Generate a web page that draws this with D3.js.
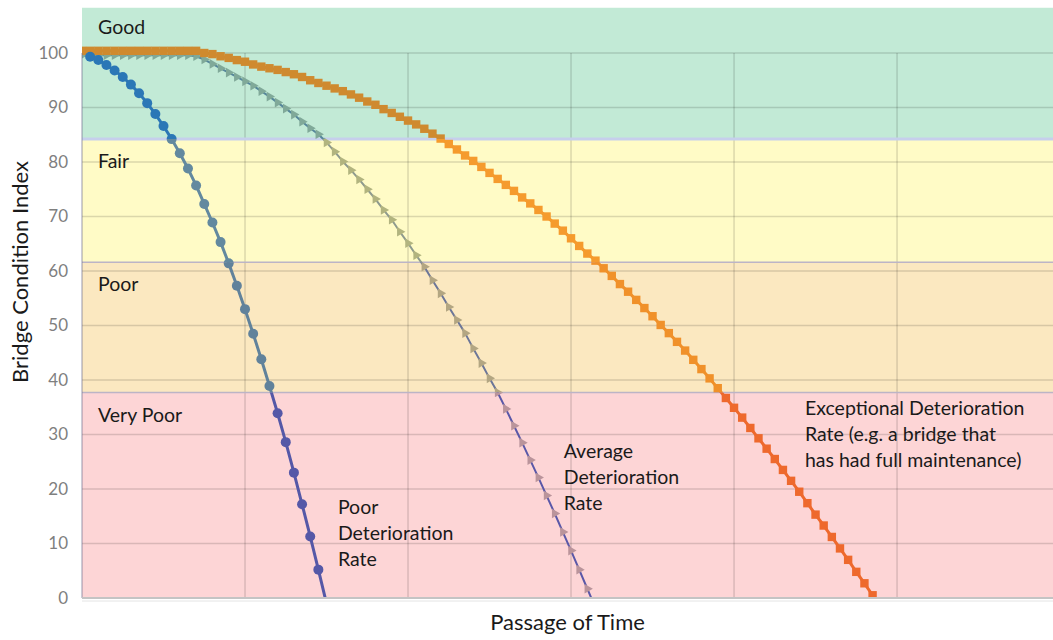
<!DOCTYPE html>
<html>
<head>
<meta charset="utf-8">
<title>Bridge Condition Index over Time</title>
<script src="https://d3js.org/d3.v7.min.js"></script>
<style>
    body {
        margin: 0;
        background: #fff;
        font-family: Lato, "Open Sans", sans-serif;
    }
    svg { display: block; }
    .y-axis text {
        fill: #7f7f7f;
        font-size: 17px;
        font-family: Lato, sans-serif;
    }
    .band-label, .note {
        fill: #1a1a1a;
        font-size: 19.5px;
    }
    .axis-title {
        fill: #1a1a1a;
        font-size: 22px;
    }
</style>
</head>
<body>
<div id="chart"></div>
<script>
// condition bands, edges in index points
const bandNames = ["Good", "Fair", "Poor", "Very Poor"];
const bandUpper = [108.3, 84.2, 61.6, 37.7];
const bandLower = [84.2, 61.6, 37.7, 0];

const periods = d3.range(120);            // time steps along the x axis
const timeGrid = [0, 20, 40, 60, 80, 100];
const conditionTicks = [0, 10, 20, 30, 40, 50, 60, 70, 80, 90, 100];

// values per time step (last value sits below the axis)
const poorRate = [null, 99.3, 98.7, 97.8, 96.8, 95.6, 94.2, 92.6, 90.8, 88.8,
    86.6, 84.2, 81.6, 78.8, 75.7, 72.3, 68.9, 65.3, 61.4, 57.3,
    53.0, 48.5, 43.8, 38.9, 33.9, 28.6, 23.0, 17.2, 11.3, 5.2, -1.0];

const averageRate = [99.6, 99.6, 99.6, 99.6, 99.6, 99.6, 99.6, 99.6, 99.6, 99.6,
    99.6, 99.6, 99.6, 99.6, 99.4, 98.8, 98.0, 97.2, 96.4, 95.6,
    94.8, 94.0, 93.0, 92.0, 90.9, 89.8, 88.7, 87.4, 86.2, 85.1,
    83.6, 81.9, 80.1, 78.5, 76.8, 75.0, 73.2, 71.2, 69.4, 67.2,
    65.1, 62.9, 60.8, 58.3, 55.9, 53.4, 51.0, 48.6, 45.8, 43.1,
    40.3, 37.7, 34.7, 31.6, 28.5, 25.3, 22.1, 18.8, 15.5, 12.1,
    8.7, 5.2, 1.7, -1.8];

const exceptionalRate = [100.4, 100.4, 100.4, 100.4, 100.4, 100.4, 100.4, 100.4, 100.4, 100.4,
    100.4, 100.4, 100.4, 100.4, 100.4, 100.0, 99.8, 99.4, 99.1, 98.7,
    98.4, 97.9, 97.5, 97.2, 96.9, 96.5, 96.1, 95.6, 95.0, 94.5,
    94.0, 93.5, 93.0, 92.4, 91.8, 91.1, 90.5, 89.7, 89.0, 88.3,
    87.6, 86.9, 86.1, 85.2, 84.3, 83.3, 82.3, 81.2, 80.2, 79.1,
    78.0, 76.9, 75.8, 74.7, 73.5, 72.4, 71.2, 70.0, 68.7, 67.4,
    66.0, 64.6, 63.2, 61.9, 60.5, 59.1, 57.6, 56.2, 54.7, 53.2,
    51.7, 50.1, 48.6, 47.0, 45.4, 43.7, 42.0, 40.3, 38.5, 36.7,
    34.9, 33.1, 31.2, 29.3, 27.4, 25.5, 23.5, 21.5, 19.5, 17.4,
    15.3, 13.3, 11.2, 9.1, 7.0, 4.8, 2.7, 0.5, -1.7];

// text notes next to each curve, anchored in data units
const noteLines = [
    ["Poor", "Deterioration", "Rate"],
    ["Average", "Deterioration", "Rate"],
    ["Exceptional Deterioration", "Rate (e.g. a bridge that", "has had full maintenance)"]
];
const noteTime = [31.4, 59.1, 88.7];
const noteValue = [15.4, 25.6, 33.6];

// colours: one entry per band, the bands tint the curves
const bandFill = ["#c2ead6", "#fffbc6", "#fbe8c0", "#fdd5d6"];
const series = [
    { values: averageRate, marker: "triangle", width: 2,
      line: ["#55869a", "#8e9a8e", "#6c7698", "#5a58a8"],
      fill: ["#80a999", "#b2b47f", "#b3a682", "#ba949b"] },
    { values: exceptionalRate, marker: "square", width: 3,
      line: ["#cf8a2f", "#f59b2d", "#f0912a", "#ee692d"],
      fill: ["#cf8a2f", "#f59b2d", "#f0912a", "#ee692d"] },
    { values: poorRate, marker: "circle", width: 3,
      line: ["#2b77b6", "#63899f", "#61829b", "#5558a7"],
      fill: ["#2b77b6", "#63899f", "#61829b", "#5558a7"] }
];

const W = 1053, H = 640;
const svg = d3.select("#chart").append("svg")
    .attr("width", W)
    .attr("height", H);

const x = d3.scaleLinear().domain([0, 119]).range([82, 1051.9]);
const y = d3.scaleLinear().domain([0, 100]).range([598, 53]);

// bands
svg.selectAll(".band")
    .data(bandNames)
    .enter().append("rect")
    .attr("class", "band")
    .attr("x", x(0))
    .attr("width", W - x(0))
    .attr("y", (d, i) => y(bandUpper[i]))
    .attr("height", (d, i) => y(bandLower[i]) - y(bandUpper[i]))
    .attr("fill", (d, i) => bandFill[i]);

// gridlines
svg.selectAll(".hgrid")
    .data(conditionTicks)
    .enter().append("line")
    .attr("x1", x(0)).attr("x2", W)
    .attr("y1", d => y(d)).attr("y2", d => y(d))
    .attr("stroke", "rgba(0,0,0,0.14)")
    .attr("stroke-width", 1.5);

svg.selectAll(".vgrid")
    .data(timeGrid.slice(1))
    .enter().append("line")
    .attr("x1", d => x(d)).attr("x2", d => x(d))
    .attr("y1", y(0)).attr("y2", y(100))
    .attr("stroke", "rgba(0,0,0,0.14)")
    .attr("stroke-width", 1.5);

// band edges
svg.selectAll(".edge")
    .data(bandLower.slice(0, 3))
    .enter().append("line")
    .attr("x1", x(0)).attr("x2", W)
    .attr("y1", d => y(d)).attr("y2", d => y(d))
    .attr("stroke", (d, i) => i === 0 ? "#c6cfec" : "#bcb4c6")
    .attr("stroke-width", (d, i) => i === 0 ? 3 : 1.6);

// curves, drawn once per band so each band can tint them
const defs = svg.append("defs");
bandNames.forEach((b, i) => {
    const top = i === 0 ? 0 : y(bandUpper[i]);
    defs.append("clipPath").attr("id", "clip-" + i)
        .append("rect")
        .attr("x", x(0))
        .attr("width", W - x(0))
        .attr("y", top)
        .attr("height", y(bandLower[i]) - top);
});

const line = d3.line()
    .defined(d => d.v != null)
    .x(d => x(d.t))
    .y(d => y(d.v));

const tri = d3.symbol(d3.symbolTriangle, 40);

bandNames.forEach((b, bi) => {
    const g = svg.append("g").attr("clip-path", `url(#clip-${bi})`);
    series.forEach(s => {
        const pts = periods.filter(t => t < s.values.length)
            .map(t => ({ t: t, v: s.values[t] }));
        g.append("path")
            .datum(pts)
            .attr("d", line)
            .attr("fill", "none")
            .attr("stroke", s.line[bi])
            .attr("stroke-width", s.width)
            .attr("stroke-linejoin", "round");

        const dots = pts.filter(d => d.v != null);
        if (s.marker === "circle") {
            g.selectAll(null).data(dots).enter().append("circle")
                .attr("cx", d => x(d.t))
                .attr("cy", d => y(d.v))
                .attr("r", 5)
                .attr("fill", s.fill[bi]);
        } else if (s.marker === "square") {
            g.selectAll(null).data(dots).enter().append("rect")
                .attr("x", d => x(d.t) - 4.2)
                .attr("y", d => y(d.v) - 4.2)
                .attr("width", 8.4)
                .attr("height", 8.4)
                .attr("fill", s.fill[bi]);
        } else {
            g.selectAll(null).data(dots).enter().append("path")
                .attr("d", tri)
                .attr("transform", d => `translate(${x(d.t)},${y(d.v)}) rotate(90)`)
                .attr("fill", s.fill[bi]);
        }
    });
});

// axis lines
svg.append("line")
    .attr("x1", x(0)).attr("x2", x(0))
    .attr("y1", y(100)).attr("y2", y(0))
    .attr("stroke", "rgba(110,110,140,0.35)")
    .attr("stroke-width", 2);
svg.append("line")
    .attr("x1", x(0)).attr("x2", W)
    .attr("y1", y(0)).attr("y2", y(0))
    .attr("stroke", "#c4c4c4")
    .attr("stroke-width", 2);
svg.append("line")
    .attr("x1", x(0)).attr("x2", W)
    .attr("y1", y(0) + 3).attr("y2", y(0) + 3)
    .attr("stroke", "#e4e4e4")
    .attr("stroke-width", 1);

// y axis labels
svg.append("g")
    .attr("class", "y-axis")
    .attr("transform", `translate(${x(0)},0)`)
    .call(d3.axisLeft(y).tickValues(conditionTicks).tickSize(0).tickPadding(14))
    .call(g => g.select(".domain").remove());

// band names
svg.selectAll(".band-label")
    .data(bandNames)
    .enter().append("text")
    .attr("class", "band-label")
    .attr("x", x(0) + 16)
    .attr("y", (d, i) => y(bandUpper[i]) + (i === 0 ? 26 : 29))
    .text(d => d);

// curve notes
noteLines.forEach((lines, i) => {
    const t = svg.append("text")
        .attr("class", "note")
        .attr("x", x(noteTime[i]))
        .attr("y", y(noteValue[i]));
    lines.forEach((s, j) => {
        t.append("tspan")
            .attr("x", x(noteTime[i]))
            .attr("dy", j === 0 ? 0 : 26)
            .text(s);
    });
});

// axis titles
svg.append("text")
    .attr("class", "axis-title")
    .attr("x", (x(0) + W) / 2)
    .attr("y", 630)
    .attr("text-anchor", "middle")
    .text("Passage of Time");

svg.append("text")
    .attr("class", "axis-title")
    .attr("transform", "translate(27.5,272) rotate(-90)")
    .attr("text-anchor", "middle")
    .text("Bridge Condition Index");
</script>
</body>
</html>
